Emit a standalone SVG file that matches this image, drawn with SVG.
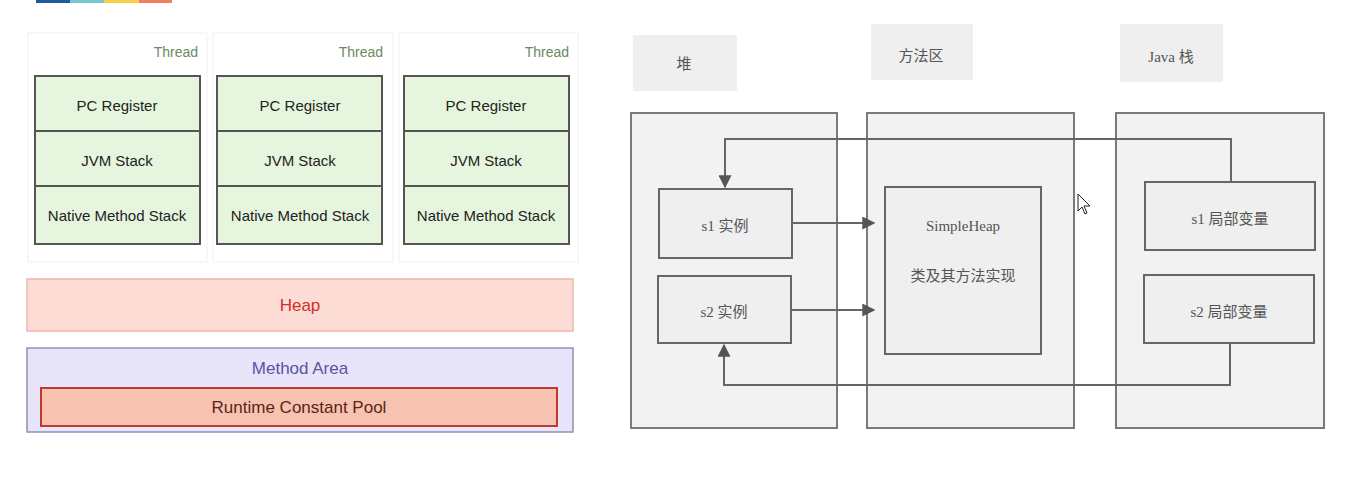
<svg xmlns="http://www.w3.org/2000/svg" width="1354" height="484" viewBox="0 0 1354 484">
<style>
.thr{fill:#fff;stroke:#f0f0f0;stroke-width:1}
.thl{font-family:"Liberation Sans",Arial,sans-serif;font-size:14px;fill:#6b8a5e;text-anchor:end}
.cell{fill:#e6f6de;stroke:#555;stroke-width:2}
.ct{font-family:"Liberation Sans",Arial,sans-serif;font-size:15px;fill:#222;text-anchor:middle;dominant-baseline:central}
.big{font-family:"Liberation Sans",Arial,sans-serif;font-size:17px;text-anchor:middle;dominant-baseline:central}
.lab{fill:#efefef}
.area{fill:#f2f2f2;stroke:#7a7a7a;stroke-width:2}
.box{fill:#efefef;stroke:#666;stroke-width:2}
.cn{font-family:"Liberation Serif","Noto Sans CJK SC",serif;font-size:15px;fill:#555;text-anchor:middle;dominant-baseline:central}
.ln{fill:none;stroke:#666;stroke-width:2}
</style>
<defs>
<marker id="ah" viewBox="0 0 10 10" refX="9" refY="5" markerWidth="6.5" markerHeight="6.5" orient="auto" markerUnits="strokeWidth">
<path d="M0,0 L10,5 L0,10 z" fill="#555"/>
</marker>
</defs>
<rect width="1354" height="484" fill="#fff"/>
<g id="colorbar">
<rect x="36" y="0" width="34" height="3" fill="#1f5aa0"/>
<rect x="70" y="0" width="34" height="3" fill="#79c6d0"/>
<rect x="104" y="0" width="35" height="3" fill="#f7d04a"/>
<rect x="139" y="0" width="33" height="3" fill="#f08060"/>
</g>
<g id="thread1">
<rect class="thr" x="28" y="33" width="179" height="229"/>
<text class="thl" x="198" y="57">Thread</text>
<rect class="cell" x="35" y="76" width="165" height="55"/>
<rect class="cell" x="35" y="131" width="165" height="55"/>
<rect class="cell" x="35" y="186" width="165" height="58"/>
<text class="ct" x="117" y="105">PC Register</text>
<text class="ct" x="117" y="160">JVM Stack</text>
<text class="ct" x="117" y="215">Native Method Stack</text>
</g>
<g id="thread2">
<rect class="thr" x="213" y="33" width="180" height="229"/>
<text class="thl" x="383" y="57">Thread</text>
<rect class="cell" x="217" y="76" width="165" height="55"/>
<rect class="cell" x="217" y="131" width="165" height="55"/>
<rect class="cell" x="217" y="186" width="165" height="58"/>
<text class="ct" x="300" y="105">PC Register</text>
<text class="ct" x="300" y="160">JVM Stack</text>
<text class="ct" x="300" y="215">Native Method Stack</text>
</g>
<g id="thread3">
<rect class="thr" x="399" y="33" width="179" height="229"/>
<text class="thl" x="569" y="57">Thread</text>
<rect class="cell" x="404" y="76" width="165" height="55"/>
<rect class="cell" x="404" y="131" width="165" height="55"/>
<rect class="cell" x="404" y="186" width="165" height="58"/>
<text class="ct" x="486" y="105">PC Register</text>
<text class="ct" x="486" y="160">JVM Stack</text>
<text class="ct" x="486" y="215">Native Method Stack</text>
</g>
<g id="heap">
<rect x="27" y="279" width="546" height="52" fill="#fddcd6" stroke="#f0b4ac" stroke-width="1.5"/>
<text class="big" x="300" y="305" fill="#d0302a">Heap</text>
</g>
<g id="methodArea">
<rect x="27" y="348" width="546" height="84" fill="#e8e4fa" stroke="#9090b4" stroke-width="1.5"/>
<text class="big" x="300" y="368" fill="#5a55a0">Method Area</text>
</g>
<g id="runtimeConstantPool">
<rect x="41" y="388" width="516" height="38" fill="#f8c2b0" stroke="#c0392b" stroke-width="2"/>
<text class="big" x="299" y="407" fill="#5a2418">Runtime Constant Pool</text>
</g>
<g id="label-heap">
<rect class="lab" x="633" y="35" width="104" height="56"/>
<text class="cn" x="684" y="64">堆</text>
</g>
<g id="label-method">
<rect class="lab" x="871" y="24" width="102" height="56"/>
<text class="cn" x="921" y="56">方法区</text>
</g>
<g id="label-java">
<rect class="lab" x="1120" y="24" width="103" height="58"/>
<text class="cn" x="1171" y="57">Java 栈</text>
</g>
<g id="area-heap"><rect class="area" x="631" y="113" width="206" height="315"/></g>
<g id="area-method"><rect class="area" x="867" y="113" width="207" height="315"/></g>
<g id="area-java"><rect class="area" x="1116" y="113" width="208" height="315"/></g>
<g id="connectors">
<path class="ln" d="M1231,182 V139 H725 V187" marker-end="url(#ah)"/>
<path class="ln" d="M1230,343 V385 H724 V345" marker-end="url(#ah)"/>
<path class="ln" d="M792,223 H874" marker-end="url(#ah)"/>
<path class="ln" d="M791,310 H874" marker-end="url(#ah)"/>
</g>
<g id="s1inst">
<rect class="box" x="659" y="189" width="133" height="69"/>
<text class="cn" x="725" y="226">s1 实例</text>
</g>
<g id="s2inst">
<rect class="box" x="658" y="276" width="133" height="67"/>
<text class="cn" x="724" y="312">s2 实例</text>
</g>
<g id="simpleHeap">
<rect class="box" x="885" y="187" width="156" height="167"/>
<text class="cn" x="963" y="226">SimpleHeap</text>
<text class="cn" x="963" y="276">类及其方法实现</text>
</g>
<g id="s1var">
<rect class="box" x="1145" y="182" width="170" height="68"/>
<text class="cn" x="1230" y="219">s1 局部变量</text>
</g>
<g id="s2var">
<rect class="box" x="1144" y="275" width="170" height="68"/>
<text class="cn" x="1229" y="312">s2 局部变量</text>
</g>
<g id="cursor">
<path d="M1078,194 L1078,211 L1082,207 L1085,214 L1087,213 L1084,206 L1090,206 Z" fill="#fff" stroke="#222" stroke-width="1"/>
</g>
</svg>
